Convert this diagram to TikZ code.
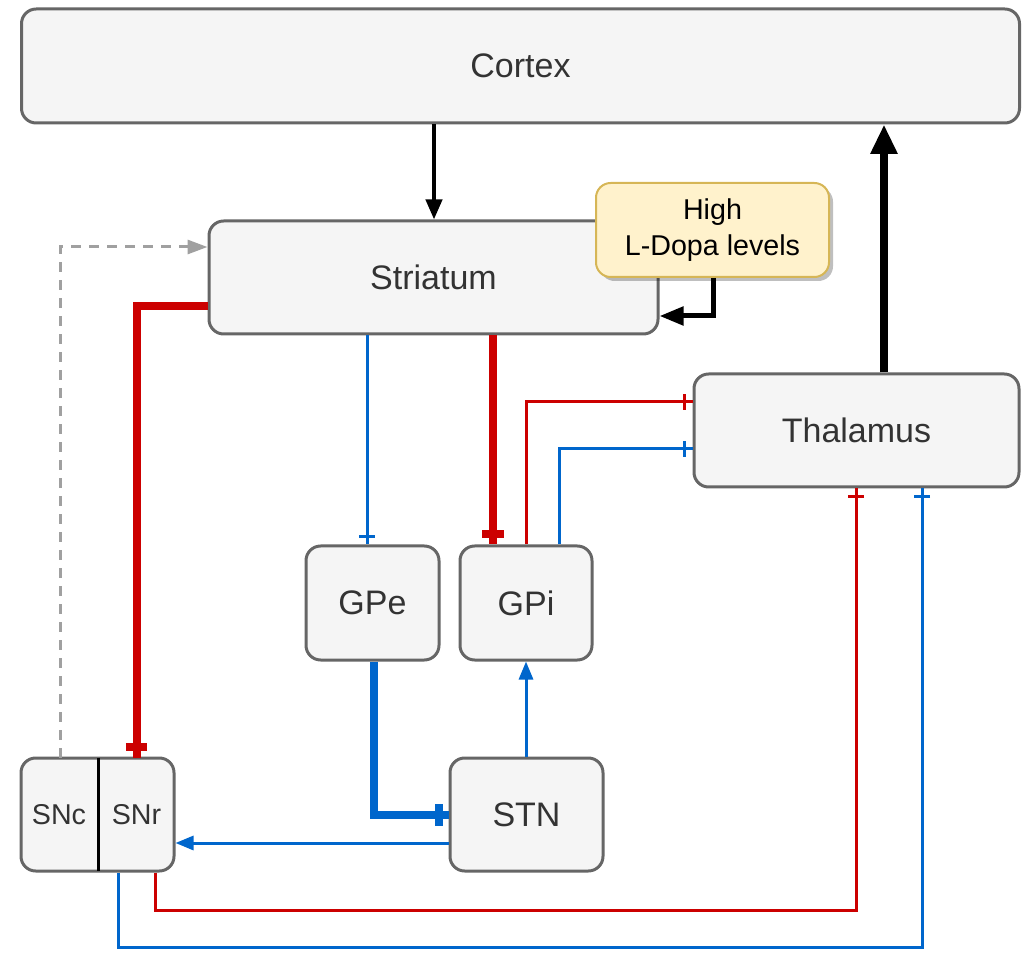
\documentclass[tikz,border=0pt]{standalone}
\usepackage{fontspec}
\setmainfont{Liberation Sans}
\usetikzlibrary{arrows.meta,shadows,decorations.markings}
\definecolor{boxfill}{HTML}{F5F5F5}
\definecolor{boxline}{HTML}{666666}
\definecolor{txt}{HTML}{333333}
\definecolor{rd}{HTML}{CC0000}
\definecolor{bl}{HTML}{0066CC}
\definecolor{gr}{HTML}{A0A0A0}
\definecolor{yfill}{HTML}{FFF2CC}
\definecolor{yline}{HTML}{D6B656}
\tikzset{
  region/.style={draw=boxline, fill=boxfill, line width=2.25pt, rounded corners=11pt,
    text=txt, font=\fontsize{25.5pt}{30pt}\selectfont, inner sep=0pt},
  smalltxt/.style={text=txt, font=\fontsize{21.5pt}{27pt}\selectfont, inner sep=0pt},
  tee/.style n args={4}{postaction={decorate, decoration={markings,
    mark=at position -#1 with {\draw[line width=#3, draw=#4] (0pt,-#2) -- (0pt,#2);}}}},
  thickred/.style={draw=rd, line width=6pt, tee={8pt}{8pt}{6pt}{rd}},
  thinred/.style={draw=rd, line width=2.25pt, tee={6pt}{6pt}{2.25pt}{rd}},
  thinbluetee/.style={draw=bl, line width=2.25pt, tee={6pt}{6pt}{2.25pt}{bl}},
  thickbluetee/.style={draw=bl, line width=6pt, tee={7.5pt}{8pt}{6pt}{bl}},
  bluearrow/.style={draw=bl, line width=2.25pt, -{Triangle[length=13.5pt,width=10.5pt]}},
}
\begin{document}
\begin{tikzpicture}[x=0.75pt,y=-0.75pt]
\useasboundingbox (0,0) rectangle (1029,955);
% nodes
\node[region, minimum width=998*0.75pt, minimum height=114*0.75pt] (cortex) at (520.5,66) {Cortex};
\node[region, minimum width=449*0.75pt, minimum height=113*0.75pt] (striatum) at (433.5,277.5) {Striatum};
\node[draw=yline, fill=yfill, line width=1.5pt, rounded corners=11pt, align=center,
  minimum width=233*0.75pt, minimum height=94*0.75pt, smalltxt, text=black,
  drop shadow={shadow xshift=3pt, shadow yshift=-3pt, fill=black, opacity=0.25}] (ldopa) at (712.5,230) {\raisebox{-2pt}{High}\\\raisebox{-2pt}{L-Dopa levels}};
\node[region, minimum width=325*0.75pt, minimum height=113*0.75pt] (thalamus) at (856.5,430.5) {Thalamus};
\node[region, minimum width=133*0.75pt, minimum height=114*0.75pt] (gpe) at (372.5,603) {GPe};
\node[region, minimum width=132*0.75pt, minimum height=114*0.75pt] (gpi) at (526,603) {GPi};
\node[region, minimum width=153*0.75pt, minimum height=113*0.75pt] (stn) at (526.5,814.5) {STN};
\node[region, minimum width=153*0.75pt, minimum height=113*0.75pt] (sn) at (97.5,814.5) {};
\node[smalltxt, minimum width=78*0.75pt, minimum height=113*0.75pt] (snc) at (59,814.5) {SNc};
\node[smalltxt, minimum width=77*0.75pt, minimum height=113*0.75pt] (snr) at (136.5,814.5) {SNr};
\draw[black, line width=2.25pt] (snc.north east) -- (snc.south east);
% connectors
\draw[black, line width=3pt, -{Triangle[length=15pt,width=12pt]}] (434,0 |- cortex.south) -- (434,0 |- striatum.north);
\draw[black, line width=6pt, -{Triangle[length=22pt,width=19pt]}] (884,0 |- thalamus.north) -- (884,0 |- cortex.south);
\draw[black, line width=3.75pt, -{Triangle[length=18pt,width=13.5pt]}] (713,0 |- ldopa.south) |- (0,316 -| striatum.east);
\draw[gr, line width=2.25pt, dash pattern=on 7.5pt off 6pt, -{Triangle[length=15pt,width=10.5pt]}] (60,0 |- snc.north) |- (0,247 -| striatum.west);
\draw[thickred] (striatum.west |- 0,306) -| (snr.north);
\draw[thinbluetee] (367,0 |- striatum.south) -- (367,0 |- gpe.north);
\draw[thickred] (493,0 |- striatum.south) -- (493,0 |- gpi.north);
\draw[thinred] (gpi.north) |- (0,402 -| thalamus.west);
\draw[thinbluetee] (559,0 |- gpi.north) |- (0,449 -| thalamus.west);
\draw[thickbluetee] (374,0 |- gpe.south) |- (0,815 -| stn.west);
\draw[bluearrow] (526,0 |- stn.north) -- (526,0 |- gpi.south);
\draw[bluearrow] (stn.west |- 0,843) -- (sn.east |- 0,843);
\draw[thinred] (155,0 |- sn.south) -- (155,910) -- (856,910) -- (856,0 |- thalamus.south);
\draw[thinbluetee] (118,0 |- sn.south) -- (118,947) -- (922,947) -- (922,0 |- thalamus.south);
\end{tikzpicture}
\end{document}
